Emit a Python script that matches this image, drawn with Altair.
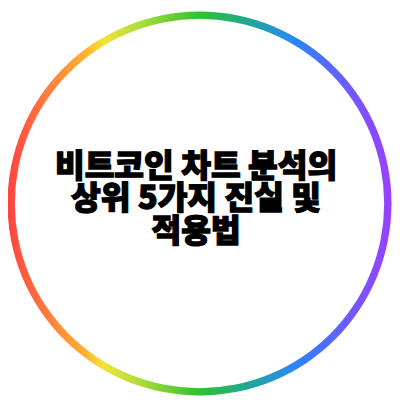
import altair as alt
import pandas as pd

# Ring (single full slice) and its gradient colours, left -> right
ring_value = [1]
stop_offsets = [0.0, 0.1, 0.2, 0.25, 0.35, 0.5, 0.62, 0.75, 0.88, 1.0]
stop_colors = ["#ff4242", "#ff7a3d", "#ffb032", "#f4e33a", "#a8dc3a",
               "#2ec230", "#22a890", "#2a85ff", "#6a5cff", "#9a40ff"]

# Title lines
lines = ["비트코인 차트 분석의", "상위 5가지 진실 및", "적용법"]
rows = [0, 1, 2]

ring_df = pd.DataFrame({"v": ring_value})
text_df = pd.DataFrame({"row": rows, "label": lines})

gradient = alt.Gradient(
    gradient="linear",
    x1=0, y1=0, x2=1, y2=0,
    stops=[alt.GradientStop(offset=o, color=c) for o, c in zip(stop_offsets, stop_colors)],
)

ring = alt.Chart(ring_df).mark_arc(
    innerRadius=188.5, outerRadius=196, fill=gradient
).encode(
    theta=alt.Theta("v:Q"),
    x=alt.value(195.5),
    y=alt.value(195.5),
)

text = alt.Chart(text_df).mark_text(
    font="'Noto Sans CJK KR Black', 'Noto Sans CJK KR', sans-serif",
    fontSize=33, fontWeight=900,
    color="#000000", stroke="#000000", strokeWidth=1.3,
    align="center", baseline="alphabetic"
).encode(
    x=alt.value(192),
    y=alt.Y("row:Q", scale=alt.Scale(domain=[0, 2], range=[168, 235]), axis=None),
    text="label:N",
)

chart = alt.layer(ring, text).properties(
    width=392, height=392, padding=0, autosize="none", background="white"
).configure_view(stroke=None)

chart.save("out.html", embed_options={"renderer": "svg", "actions": False})
